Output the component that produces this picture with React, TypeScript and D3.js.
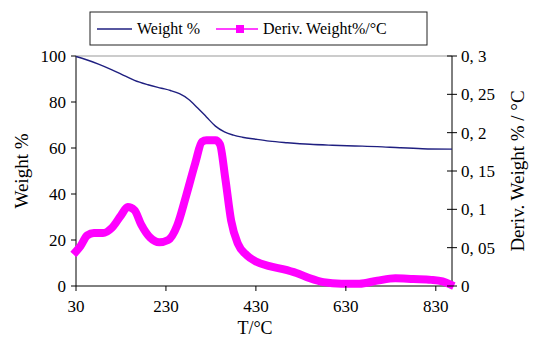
import React from "react";
import * as d3 from "d3";

// temperature (°C) and weight %
const wTemp = [30, 50, 80, 110, 140, 160, 190, 220, 240, 260, 280, 300, 320, 340, 360, 380, 400, 430, 460, 500, 550, 600, 650, 700, 750, 800, 866];
const weight = [99.8, 98.6, 96.5, 94, 91.2, 89.4, 87.5, 86, 85, 83.6, 81.2, 77.5, 73.5, 69.5, 67, 65.6, 64.7, 63.8, 63, 62.3, 61.6, 61.2, 60.9, 60.6, 60.1, 59.7, 59.5];

// derivative weight %/°C
const dTemp = [30, 40, 55, 70, 90, 110, 130, 145, 160, 175, 195, 215, 235, 255, 275, 295, 310, 320, 340, 350, 362, 375, 390, 410, 430, 460, 490, 520, 550, 580, 620, 660, 700, 740, 780, 820, 845, 862];
const deriv = [0.045, 0.052, 0.066, 0.069, 0.069, 0.076, 0.092, 0.103, 0.099, 0.08, 0.063, 0.057, 0.06, 0.079, 0.118, 0.16, 0.188, 0.19, 0.19, 0.185, 0.14, 0.085, 0.055, 0.04, 0.032, 0.026, 0.022, 0.017, 0.01, 0.005, 0.003, 0.003, 0.007, 0.01, 0.009, 0.008, 0.006, 0.002];

const xTicks = [30, 230, 430, 630, 830];
const leftTicks = [0, 20, 40, 60, 80, 100];
const rightTicks = [0, 0.05, 0.1, 0.15, 0.2, 0.25, 0.3];

const font = "Liberation Serif, DejaVu Serif, serif";
const navy = "#1f1f80";
const magenta = "#ff00ff";

export default function App() {
  const left = 76, right = 452, top = 56, bottom = 286;
  const x = d3.scaleLinear().domain([30, 866]).range([left, right]);
  const yL = d3.scaleLinear().domain([0, 100]).range([bottom, top]);
  const yR = d3.scaleLinear().domain([0, 0.3]).range([bottom, top]);

  const wLine = d3.line<number>().x((_, i) => x(wTemp[i])).y((d) => yL(d)).curve(d3.curveMonotoneX);
  const dLine = d3.line<number>().x((_, i) => x(dTemp[i])).y((d) => yR(d)).curve(d3.curveMonotoneX);

  return (
    <svg width={534} height={344} style={{ position: "absolute", left: 0, top: 0, fontFamily: font }}>
      <rect width={534} height={344} fill="#fff" />
      {/* legend */}
      <rect x={90} y={12} width={337} height={33} fill="#fff" stroke="#222" strokeWidth={1} />
      <line x1={97} x2={132} y1={29} y2={29} stroke={navy} strokeWidth={1.5} />
      <text x={137} y={34} fontSize={16}>Weight %</text>
      <line x1={216} x2={258} y1={29} y2={29} stroke={magenta} strokeWidth={1.5} />
      <rect x={236} y={25} width={8} height={8} fill={magenta} />
      <text x={263} y={34} fontSize={16}>Deriv. Weight%/°C</text>

      {/* plot frame */}
      <line x1={left} x2={right} y1={top} y2={top} stroke="#999" strokeWidth={1} />
      <line x1={left} x2={left} y1={top} y2={bottom} stroke="#000" strokeWidth={1} />
      <line x1={right} x2={right} y1={top} y2={bottom} stroke="#000" strokeWidth={1} />
      <line x1={left} x2={right} y1={bottom} y2={bottom} stroke="#000" strokeWidth={1} />

      {/* series */}
      <path d={dLine(deriv) ?? ""} fill="none" stroke={magenta} strokeWidth={8} strokeLinejoin="miter" strokeLinecap="square" />
      <path d={wLine(weight) ?? ""} fill="none" stroke={navy} strokeWidth={1.4} />

      {/* x axis */}
      {xTicks.map((t) => (
        <g key={t}>
          <line x1={x(t)} x2={x(t)} y1={bottom} y2={bottom + 5} stroke="#000" />
          <text x={x(t)} y={bottom + 26} fontSize={17} textAnchor="middle">{t}</text>
        </g>
      ))}
      <text x={255} y={334} fontSize={18} textAnchor="middle">T/°C</text>

      {/* left axis */}
      {leftTicks.map((t) => (
        <g key={t}>
          <line x1={left - 5} x2={left} y1={yL(t)} y2={yL(t)} stroke="#000" />
          <text x={left - 10} y={yL(t) + 6} fontSize={17} textAnchor="end">{t}</text>
        </g>
      ))}
      <text transform={`translate(28,${(top + bottom) / 2}) rotate(-90)`} fontSize={19} textAnchor="middle">Weight %</text>

      {/* right axis */}
      {rightTicks.map((t) => (
        <g key={t}>
          <line x1={right - 5} x2={right + 5} y1={yR(t)} y2={yR(t)} stroke="#000" />
          <text x={right + 9} y={yR(t) + 6} fontSize={17}>{t === 0 ? "0" : String(t).replace(".", ", ")}</text>
        </g>
      ))}
      <text transform={`translate(524,${(top + bottom) / 2}) rotate(-90)`} fontSize={19} textAnchor="middle">Deriv. Weight % / °C</text>
    </svg>
  );
}
